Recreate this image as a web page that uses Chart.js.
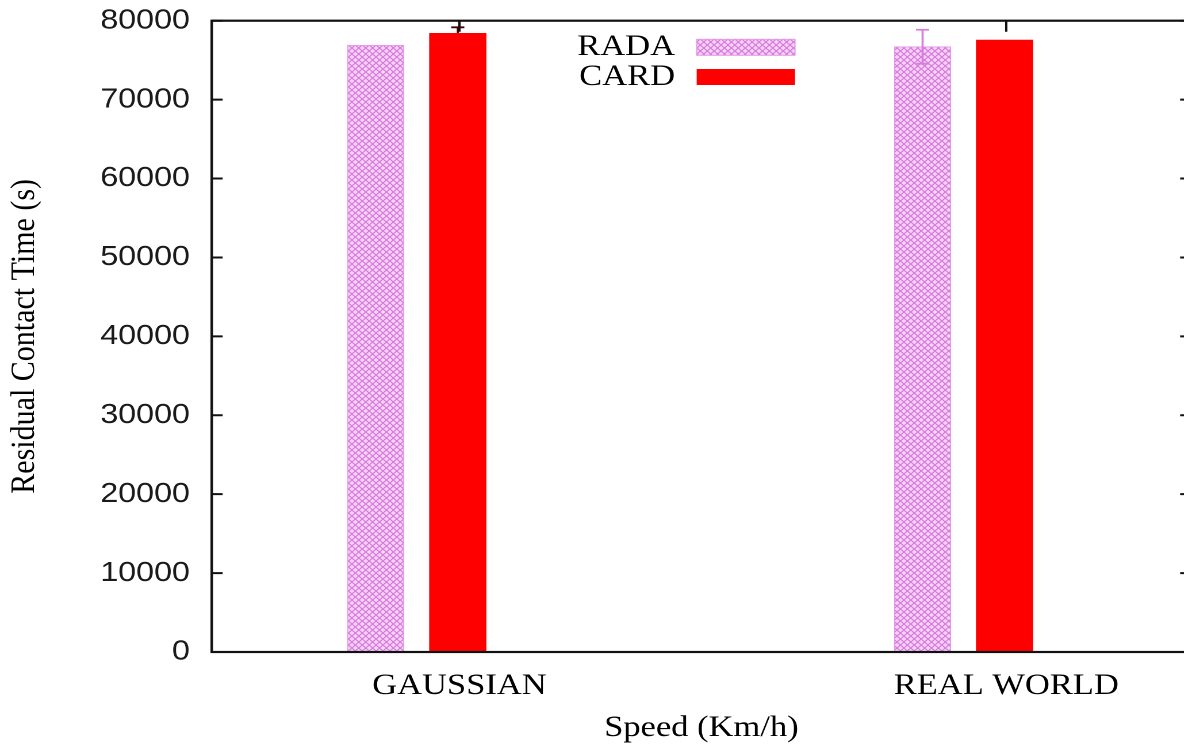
<!DOCTYPE html>
<html>
<head>
<meta charset="utf-8">
<script src="https://cdn.jsdelivr.net/npm/chart.js@4.4.1/dist/chart.umd.min.js"></script>
<style>
  html, body { margin: 0; padding: 0; background: #fff; overflow: hidden; width: 1184px; height: 745px; }
  /* the figure is laid out narrower and widened horizontally, like the original plot export */
  #wrap { position: absolute; left: 0; top: 0; width: 1040px; height: 745px; transform: scaleX(1.15); transform-origin: 0 0; }
</style>
</head>
<body>
<div id="wrap"><canvas id="c"></canvas></div>
<script>
// ---- data ----
const categories = ['GAUSSIAN', 'REAL WORLD'];
const seriesNames = ['RADA', 'CARD'];
const radaValues = [76900, 76700];
const radaErrors = [0, 2150];
const cardValues = [78400, 77550];
const cardErrors = [760, 0];
const yMin = 0;
const yMax = 80000;
const yStep = 10000;

// ---- style ----
const SERIF = '"Liberation Serif", "Times New Roman", serif';
const SANS = '"Liberation Sans", Arial, sans-serif';
const BAR_SHIFT = [-0.153, -0.003];   // bar centre relative to the category tick
const BAR_WIDTH = 49.1;
const X_MIN = -0.453;
const X_MAX = 1.338;

// pink cross-hatch fill for RADA
function crossHatch() {
  const t = document.createElement('canvas');
  t.width = 12; t.height = 12;
  const g = t.getContext('2d');
  g.fillStyle = '#f6d2f6';
  g.fillRect(0, 0, 12, 12);
  g.strokeStyle = '#d677dd';
  g.lineWidth = 2;
  g.beginPath();
  g.moveTo(-1, -1); g.lineTo(13, 13);
  g.moveTo(13, -1); g.lineTo(-1, 13);
  g.stroke();
  const p = document.createElement('canvas').getContext('2d').createPattern(t, 'repeat');
  p.setTransform(new DOMMatrix().scale(0.5));
  return p;
}

const toPoints = (vals, shift) => vals.map((v, i) => ({ x: i + shift, y: v }));

function drawErrorBars(chart, under) {
  const { ctx, scales: { y } } = chart;
  ctx.save();
  chart.data.datasets.forEach((ds, di) => {
    if (!!ds.errorsUnderBar !== under) return;
    const meta = chart.getDatasetMeta(di);
    ds.errors.forEach((e, i) => {
      if (!e) return;
      const v = ds.data[i].y;
      const px = meta.data[i].x;
      const hi = y.getPixelForValue(v + e);
      const lo = y.getPixelForValue(v - e);
      ctx.strokeStyle = ds.errorColor;
      ctx.lineWidth = 1.8;
      ctx.beginPath();
      ctx.moveTo(px, lo); ctx.lineTo(px, hi);
      ctx.moveTo(px - 5.7, hi); ctx.lineTo(px + 5.7, hi);
      ctx.moveTo(px - 5.7, lo); ctx.lineTo(px + 5.7, lo);
      ctx.stroke();
    });
  });
  ctx.restore();
}

// frame with inward ticks, error bars and the key, drawn gnuplot-style
const gnuplotDecor = {
  id: 'gnuplotDecor',
  beforeDatasetsDraw(chart) {
    drawErrorBars(chart, true);
  },
  afterDatasetsDraw(chart) {
    const { ctx, chartArea: a, scales: { x, y } } = chart;
    drawErrorBars(chart, false);
    ctx.save();

    // border
    ctx.strokeStyle = '#111';
    ctx.lineWidth = 2.2;
    ctx.strokeRect(a.left, a.top, a.right - a.left, a.bottom - a.top);

    // inward y ticks on both sides, mirrored x ticks on top
    ctx.lineWidth = 2;
    ctx.beginPath();
    for (let v = yMin; v <= yMax; v += yStep) {
      const py = y.getPixelForValue(v);
      ctx.moveTo(a.left, py); ctx.lineTo(a.left + 9.5, py);
      ctx.moveTo(a.right - 9.5, py); ctx.lineTo(a.right, py);
    }
    categories.forEach((c, i) => {
      const px = x.getPixelForValue(i);
      ctx.moveTo(px, a.top); ctx.lineTo(px, a.top + 11);
    });
    ctx.stroke();

    // key
    const rows = [47.3, 77];
    ctx.font = '30px ' + SERIF;
    ctx.textAlign = 'right';
    ctx.textBaseline = 'middle';
    chart.data.datasets.forEach((ds, di) => {
      const cy = rows[di];
      ctx.fillStyle = '#000';
      ctx.fillText(ds.label, 587, cy);
      ctx.fillStyle = ds.backgroundColor;
      ctx.fillRect(605.8, cy - 8, 85.5, 16);
      if (ds.borderWidth) {
        ctx.strokeStyle = ds.borderColor;
        ctx.lineWidth = 1;
        ctx.strokeRect(605.8, cy - 8, 85.5, 16);
      }
    });
    ctx.restore();
  }
};

new Chart(document.getElementById('c'), {
  type: 'bar',
  data: {
    datasets: [
      {
        label: seriesNames[0],
        data: toPoints(radaValues, BAR_SHIFT[0]),
        backgroundColor: crossHatch(),
        borderColor: '#e39ae9',
        borderWidth: 1,
        errors: radaErrors,
        errorColor: '#d77ddf'
      },
      {
        label: seriesNames[1],
        data: toPoints(cardValues, BAR_SHIFT[1]),
        backgroundColor: '#ff0000',
        borderWidth: 0,
        errors: cardErrors,
        errorColor: '#4a0000',
        errorsUnderBar: true
      }
    ]
  },
  options: {
    responsive: true,
    maintainAspectRatio: false,
    devicePixelRatio: 2,
    animation: false,
    layout: { padding: { left: 0, right: 4.3, top: 20.7, bottom: 0 } },
    datasets: { bar: { grouped: false, barThickness: BAR_WIDTH } },
    plugins: { legend: { display: false }, tooltip: { enabled: false } },
    scales: {
      x: {
        type: 'linear',
        offset: false,
        min: X_MIN,
        max: X_MAX,
        afterDataLimits: s => { s.min = X_MIN; s.max = X_MAX; },
        afterBuildTicks: s => { s.ticks = categories.map((c, i) => ({ value: i })); },
        afterFit: s => { s.height = 93; s.paddingLeft = 0; s.paddingRight = 0; },
        grid: { display: false, offset: false },
        border: { display: false },
        ticks: {
          autoSkip: false,
          maxRotation: 0,
          padding: 8,
          color: '#000',
          font: { family: SERIF, size: 30 },
          callback: v => categories[v] ?? ''
        },
        title: {
          display: true,
          text: 'Speed (Km/h)',
          color: '#000',
          font: { family: SERIF, size: 30, lineHeight: 1 },
          padding: { top: 0, bottom: 2 }
        }
      },
      y: {
        min: yMin,
        max: yMax,
        afterFit: s => { s.width = 184.1; s.paddingTop = 0; s.paddingBottom = 0; },
        grid: { display: false },
        border: { display: false },
        ticks: {
          stepSize: yStep,
          padding: 11,
          color: '#1a1a1a',
          font: { family: SANS, size: 28 },
          callback: v => String(v)
        },
        title: {
          display: true,
          text: 'Residual Contact Time (s)',
          color: '#000',
          font: { family: SERIF, size: 30, lineHeight: 1 },
          padding: { top: 6.7, bottom: 0 }
        }
      }
    }
  },
  plugins: [gnuplotDecor]
});
</script>
</body>
</html>
